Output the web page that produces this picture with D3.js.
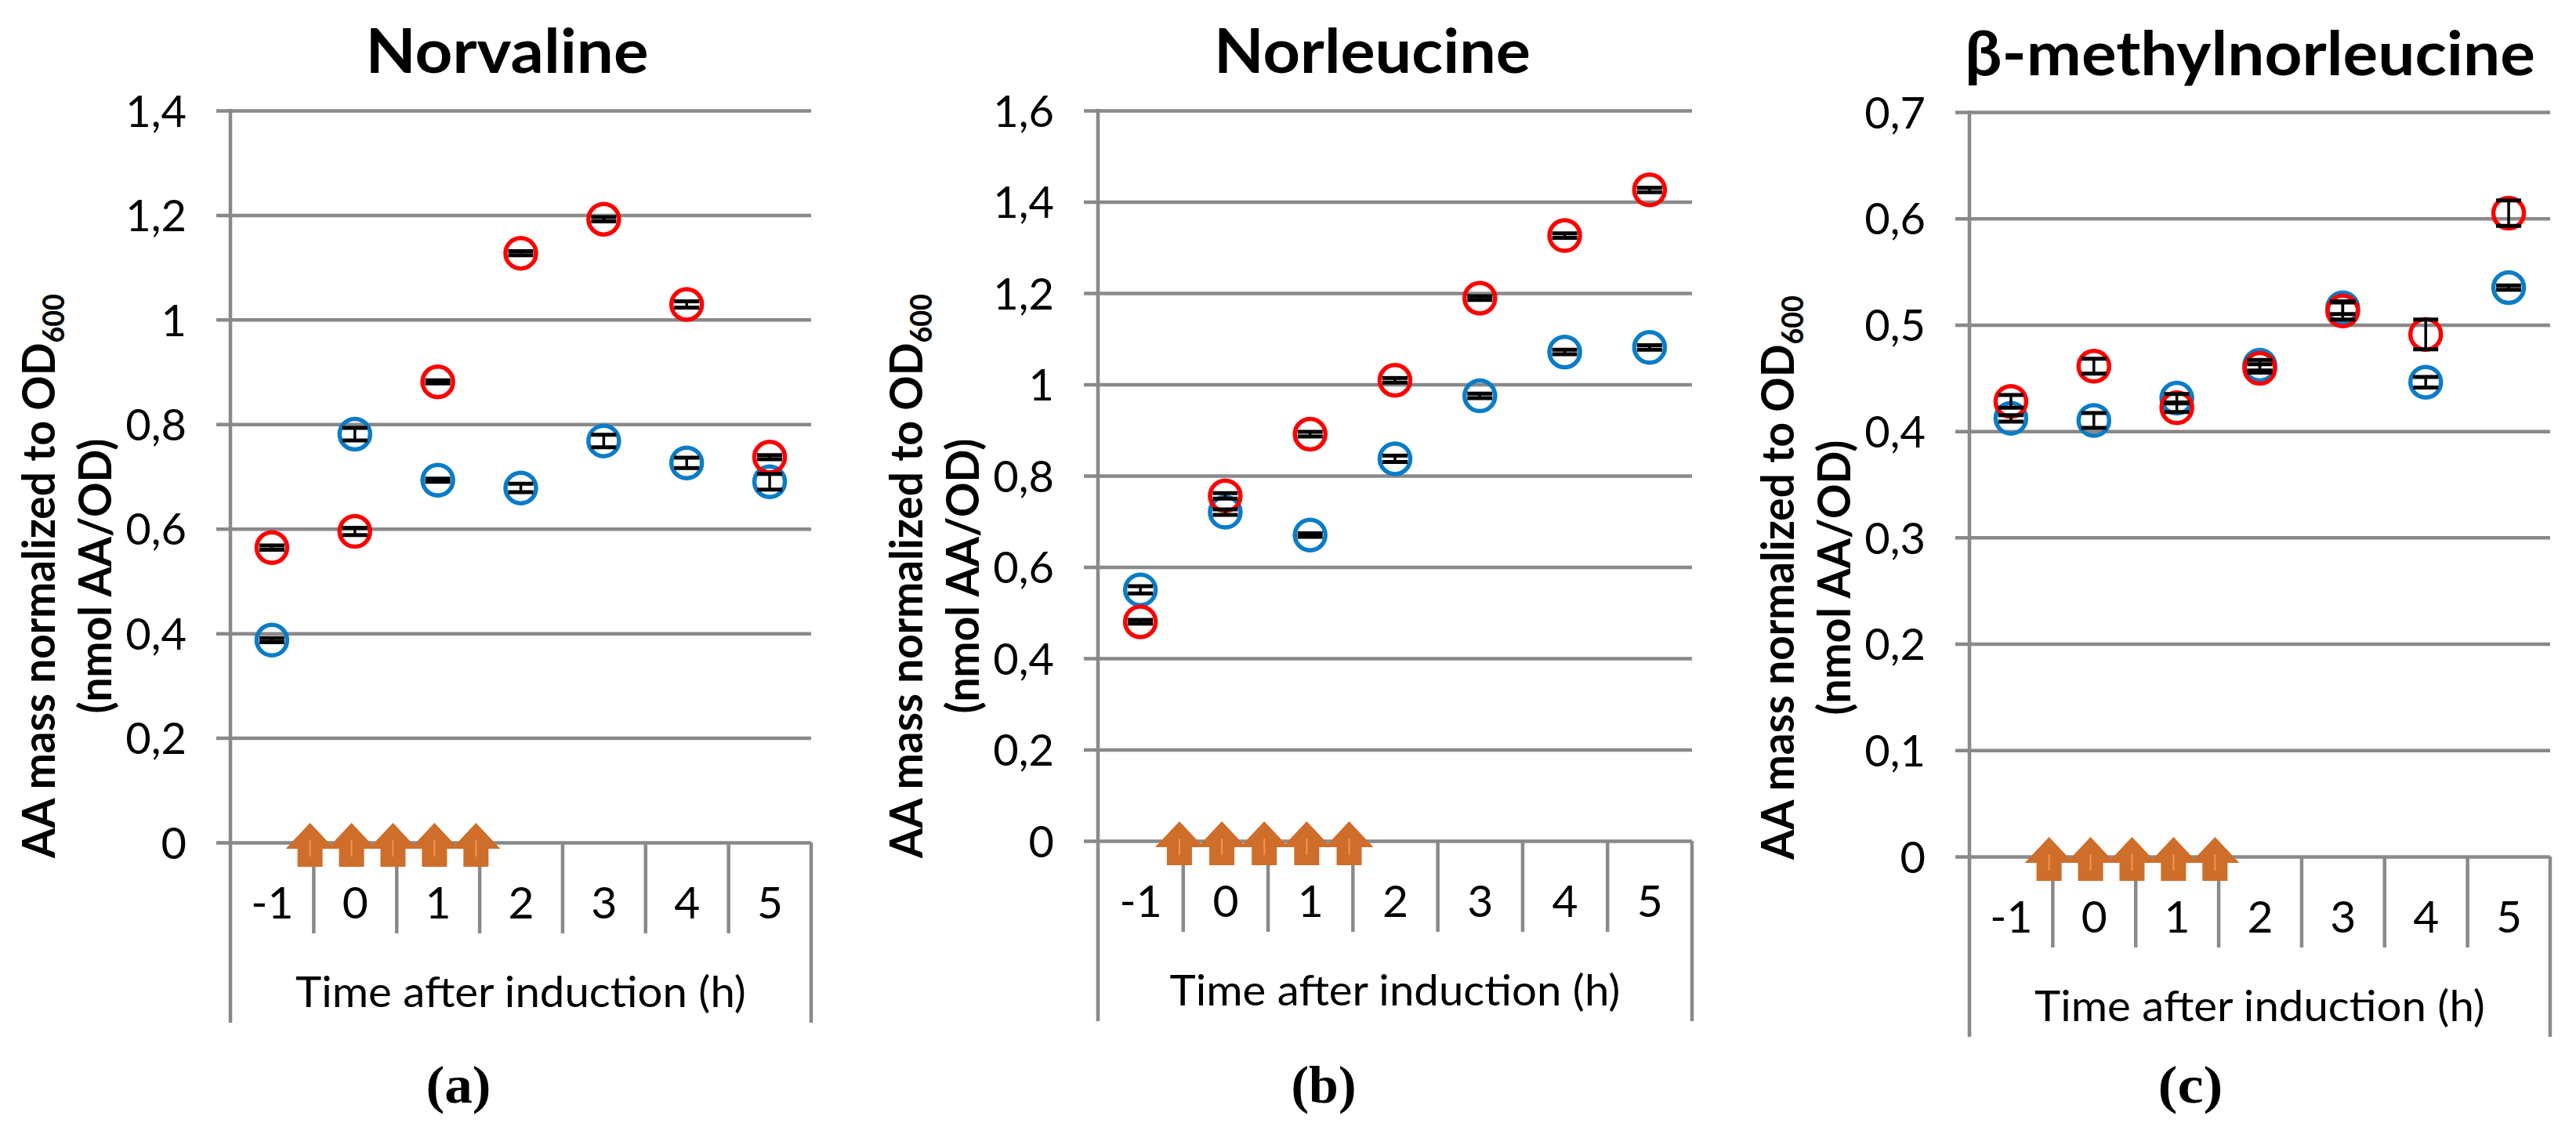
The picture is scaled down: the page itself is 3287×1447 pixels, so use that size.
<!DOCTYPE html>
<html><head><meta charset="utf-8">
<script src="https://cdn.jsdelivr.net/npm/d3@7"></script>
<style>html,body{margin:0;padding:0;background:#fff;}svg{display:block;}</style>
</head><body>
<svg id="chart" width="3287" height="1447"></svg>
<script>
// ---------------- DATA ----------------
const categories = [-1, 0, 1, 2, 3, 4, 5];
const categoryLabels = ["-1", "0", "1", "2", "3", "4", "5"];
const panelTitles = ["Norvaline", "Norleucine", "β-methylnorleucine"];
const panelLetters = ["(a)", "(b)", "(c)"];
const xAxisTitle = "Time after induction (h)";
const yAxisTitleMain = "AA mass normalized to OD";
const yAxisTitleSub = "600";
const yAxisTitleLine2 = "(nmol AA/OD)";
const feedTimes = [-0.54, -0.04, 0.46, 0.96, 1.46];

const yTicksNorvaline = [0, 0.2, 0.4, 0.6, 0.8, 1.0, 1.2, 1.4];
const yTicksNorleucine = [0, 0.2, 0.4, 0.6, 0.8, 1.0, 1.2, 1.4, 1.6];
const yTicksMethyl = [0, 0.1, 0.2, 0.3, 0.4, 0.5, 0.6, 0.7];

const norvalineRed = [0.564, 0.595, 0.881, 1.127, 1.192, 1.029, 0.737];
const norvalineRedErr = [0.004, 0.007, 0.003, 0.004, 0.004, 0.006, 0.004];
const norvalineBlue = [0.387, 0.781, 0.693, 0.678, 0.768, 0.726, 0.690];
const norvalineBlueErr = [0.004, 0.012, 0.003, 0.008, 0.012, 0.010, 0.015];

const norleucineRed = [0.480, 0.756, 0.891, 1.009, 1.189, 1.326, 1.426];
const norleucineRedErr = [0.004, 0.006, 0.005, 0.005, 0.004, 0.005, 0.005];
const norleucineBlue = [0.550, 0.720, 0.670, 0.837, 0.975, 1.071, 1.081];
const norleucineBlueErr = [0.008, 0.006, 0.004, 0.007, 0.005, 0.005, 0.005];

const methylRed = [0.428, 0.461, 0.422, 0.459, 0.513, 0.491, 0.605];
const methylRedErr = [0.006, 0.007, 0.004, 0.004, 0.008, 0.014, 0.012];
const methylBlue = [0.412, 0.410, 0.431, 0.462, 0.516, 0.446, 0.535];
const methylBlueErr = [0.003, 0.007, 0.004, 0.005, 0.006, 0.005, 0.002];

// ---------------- LAYOUT / STYLE ----------------
const COLORS = {red: "#FF0000", blue: "#0A7CC8", grid: "#898989", arrow: "#CF6D2A", stripe: "#F5964A", text: "#000"};
const layout = [
  {x0: 294, x1: 1035, yTop: 141, yZero: 1075, titleX: 647, titleY: 93, letterX: 585},
  {x0: 1401, x1: 2159, yTop: 141, yZero: 1073, titleX: 1751, titleY: 93, letterX: 1689},
  {x0: 2513, x1: 3254, yTop: 143, yZero: 1093, titleX: 2871, titleY: 96, letterX: 2795}
];
const panels = [
  {title: panelTitles[0], letter: panelLetters[0], ticks: yTicksNorvaline,
   red: norvalineRed, redErr: norvalineRedErr, blue: norvalineBlue, blueErr: norvalineBlueErr},
  {title: panelTitles[1], letter: panelLetters[1], ticks: yTicksNorleucine,
   red: norleucineRed, redErr: norleucineRedErr, blue: norleucineBlue, blueErr: norleucineBlueErr},
  {title: panelTitles[2], letter: panelLetters[2], ticks: yTicksMethyl,
   red: methylRed, redErr: methylRedErr, blue: methylBlue, blueErr: methylBlueErr}
];

const locale = d3.formatLocale({decimal: ",", thousands: ".", grouping: [3], currency: ["", ""]});
const fmt = locale.format("~g");
const SANS = "Lato, 'Open Sans', 'DejaVu Sans', sans-serif";
const SERIF = "'Liberation Serif', 'DejaVu Serif', serif";

const svg = d3.select("#chart");
svg.append("rect").attr("width", 3287).attr("height", 1447).attr("fill", "#fff");

// place a text in a group, scaled along its own direction to a target length
function fittedText(parent, cx, cy, angle, target, build) {
  const g = parent.append("g");
  const t = g.append("text").attr("text-anchor", "middle");
  build(t);
  const w = t.node().getComputedTextLength();
  const s = w > 0 ? target / w : 1;
  g.attr("transform", `translate(${cx},${cy}) rotate(${angle}) scale(${s},1)`);
  return g;
}

panels.forEach((p, i) => {
  const L = layout[i];
  const g = svg.append("g");
  const yMax = p.ticks[p.ticks.length - 1];
  const y = d3.scaleLinear().domain([0, yMax]).range([L.yZero, L.yTop]);
  const x = d3.scaleLinear().domain([categories[0] - 0.5, categories[categories.length - 1] + 0.5]).range([L.x0, L.x1]);
  const bottom = L.yZero + 230;

  // gridlines (with left tick stubs)
  const grid = g.append("g").attr("transform", `translate(${L.x0 - 18},0)`)
    .call(d3.axisRight(y).tickValues(p.ticks).tickSize(L.x1 - L.x0 + 18).tickFormat(""));
  grid.select(".domain").remove();
  grid.selectAll("line").attr("stroke", COLORS.grid).attr("stroke-width", 4.5);

  // y tick labels
  const yl = g.append("g").attr("transform", `translate(${L.x0},0)`)
    .call(d3.axisLeft(y).tickValues(p.ticks).tickSize(0).tickPadding(56).tickFormat(fmt));
  yl.select(".domain").remove();
  yl.selectAll("text").attr("font-family", SANS).attr("font-size", 56).attr("fill", COLORS.text).attr("dy", "0.36em");

  // category separators
  const boundaries = categories.slice(0, -1).map(c => c + 0.5);
  const sep = g.append("g").attr("transform", `translate(0,${L.yZero})`)
    .call(d3.axisBottom(x).tickValues(boundaries).tickSize(116).tickFormat(""));
  sep.select(".domain").remove();
  sep.selectAll("line").attr("stroke", COLORS.grid).attr("stroke-width", 4.5);

  // outer vertical lines
  g.append("line").attr("x1", L.x0).attr("x2", L.x0).attr("y1", L.yTop - 2).attr("y2", bottom)
    .attr("stroke", COLORS.grid).attr("stroke-width", 4.5);
  g.append("line").attr("x1", L.x1).attr("x2", L.x1).attr("y1", L.yZero).attr("y2", bottom)
    .attr("stroke", COLORS.grid).attr("stroke-width", 4.5);

  // category labels
  const cl = g.append("g").attr("transform", `translate(0,${L.yZero})`)
    .call(d3.axisBottom(x).tickValues(categories).tickSize(0).tickPadding(0)
      .tickFormat((d, j) => categoryLabels[j]));
  cl.select(".domain").remove();
  cl.selectAll("text").attr("font-family", SANS).attr("font-size", 57).attr("fill", COLORS.text)
    .attr("dy", null).attr("y", 97);

  // x axis title
  fittedText(g, (L.x0 + L.x1) / 2, L.yZero + 210, 0, 575, t =>
    t.text(xAxisTitle).attr("font-family", SANS).attr("font-size", 54).attr("fill", COLORS.text));

  // y axis title (two lines, rotated)
  const yc = L.yTop + 594;
  fittedText(g, L.x0 - 224, yc, -90, 720, t => {
    t.attr("font-family", SANS).attr("font-size", 58).attr("font-weight", "bold").attr("fill", COLORS.text);
    t.append("tspan").text(yAxisTitleMain);
    t.append("tspan").text(yAxisTitleSub).attr("font-size", 38).attr("dy", 12);
  });
  fittedText(g, L.x0 - 152, yc, -90, 351, t =>
    t.text(yAxisTitleLine2).attr("font-family", SANS).attr("font-size", 58).attr("font-weight", "bold").attr("fill", COLORS.text));

  // title
  fittedText(g, L.titleX, L.titleY, 0, [361, 404, 728][i], t =>
    t.text(p.title).attr("font-family", SANS).attr("font-size", 78).attr("font-weight", "bold").attr("fill", COLORS.text));

  // panel letter
  fittedText(svg, L.letterX, 1407, 0, 83, t =>
    t.text(p.letter).attr("font-family", SERIF).attr("font-size", 68).attr("font-weight", "bold").attr("fill", COLORS.text));

  // feeding arrows
  const ag = g.append("g");
  feedTimes.forEach(ft => {
    const cx = x(ft), z = L.yZero;
    ag.append("path")
      .attr("d", `M${cx},${z - 25} L${cx + 31},${z + 8} L${cx + 16},${z + 8} L${cx + 16},${z + 31} L${cx - 16},${z + 31} L${cx - 16},${z + 8} L${cx - 31},${z + 8} Z`)
      .attr("fill", COLORS.arrow);
    ag.append("line").attr("x1", cx).attr("x2", cx).attr("y1", z - 3).attr("y2", z + 18)
      .attr("stroke", COLORS.stripe).attr("stroke-width", 2);
  });

  // markers
  const series = [
    {vals: p.blue, err: p.blueErr, color: COLORS.blue},
    {vals: p.red, err: p.redErr, color: COLORS.red}
  ];
  series.forEach(s => {
    g.append("g").selectAll("circle").data(categories).join("circle")
      .attr("cx", c => x(c)).attr("cy", (c, j) => y(s.vals[j])).attr("r", 19.5)
      .attr("fill", "none").attr("stroke", s.color).attr("stroke-width", 5.5);
  });
  series.forEach(s => {
    const eg = g.append("g").attr("stroke", "#000");
    categories.forEach((c, j) => {
      const cx = x(c), hi = y(s.vals[j] + s.err[j]), lo = y(s.vals[j] - s.err[j]);
      eg.append("line").attr("x1", cx).attr("x2", cx).attr("y1", hi).attr("y2", lo).attr("stroke-width", 3.5);
      eg.append("line").attr("x1", cx - 16).attr("x2", cx + 16).attr("y1", hi).attr("y2", hi).attr("stroke-width", 5);
      eg.append("line").attr("x1", cx - 16).attr("x2", cx + 16).attr("y1", lo).attr("y2", lo).attr("stroke-width", 5);
    });
  });
});
</script>
</body></html>
